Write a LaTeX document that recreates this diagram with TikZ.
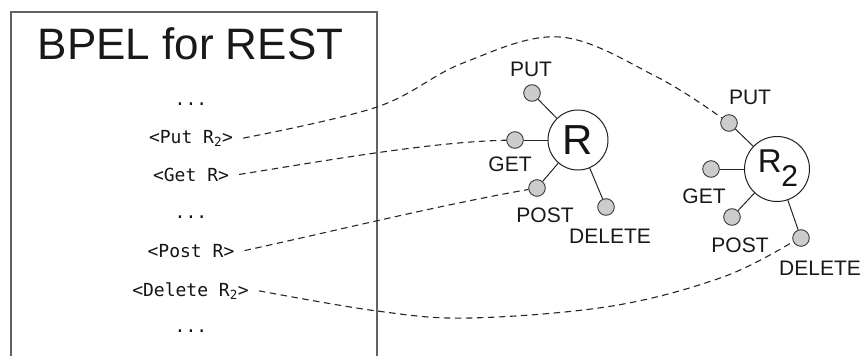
\documentclass[tikz,border=0pt]{standalone}
\usepackage{fontspec}
\setmainfont{Liberation Sans}
\setmonofont{DejaVu Sans Mono}
\begin{document}
\begin{tikzpicture}[x=1pt,y=-1pt,
  panel/.style={draw=black!62, line width=1.3pt},
  title/.style={font=\fontsize{44}{48}\selectfont, text=black!90, anchor=base, inner sep=0pt},
  codeline/.style={font=\ttfamily\fontsize{18}{20}\selectfont, text=black!92, anchor=base, inner xsep=10pt, inner ysep=2pt},
  reslabel/.style={font=\fontsize{21}{24}\selectfont, text=black!90, anchor=base, inner sep=0pt},
  resource/.style={circle, draw=black!88, line width=1pt, inner sep=0pt, fill=white, text=black!92},
  port/.style={circle, draw=black!78, fill=black!20, line width=0.9pt, minimum size=16.6pt, inner sep=0pt},
  link/.style={draw=black!85, line width=1pt},
  call/.style={draw=black!85, line width=1.1pt, dash pattern=on 6.5pt off 4.5pt},
]
\useasboundingbox (0,0) rectangle (863,356);

% process panel, open at the bottom
\draw[panel] (11,356) -- (11,12) -- (377,12) -- (377,356);
\node[title] (ttl) at (190.5,59) {BPEL for REST};

% activities of the process
\node[codeline] (d1)  at (191,105) {...};
\node[codeline] (put) at (191,143) {<Put R\textsubscript{2}>};
\node[codeline] (get) at (191,181) {<Get R>};
\node[codeline] (d2)  at (191,218) {...};
\node[codeline] (pst) at (191,257) {<Post R>};
\node[codeline] (del) at (190.5,296) {<Delete R\textsubscript{2}>};
\node[codeline] (d3)  at (191,332) {...};

% resource R with its interface
\node[resource, minimum size=60pt, font=\fontsize{42}{44}\selectfont] (R) at (578,140) {R};
\node[port] (rPut) at (532,93)  {};
\node[port] (rGet) at (515,140) {};
\node[port] (rPst) at (537,188) {};
\node[port] (rDel) at (606,207) {};
\foreach \p in {rPut,rGet,rPst,rDel} \draw[link] (\p) -- (R);
\node[reslabel] (lrPut) at (531,76)  {PUT};
\node[reslabel] (lrGet) at (510,171) {GET};
\node[reslabel] (lrPst) at (545,222) {POST};
\node[reslabel] (lrDel) at (610,243) {DELETE};

% resource R2 with its interface
\node[resource, minimum size=65pt] (R2) at (777,169) {};
\node[inner sep=0pt, text=black!92, font=\fontsize{33}{35}\selectfont] (R2t) at (778,168.5)
  {R\kern-0.5pt\raisebox{-14pt}{\fontsize{30}{30}\selectfont 2}};
\node[port] (sPut) at (729,123) {};
\node[port] (sGet) at (711,169) {};
\node[port] (sPst) at (732,217) {};
\node[port] (sDel) at (801,238) {};
\foreach \p in {sPut,sGet,sPst,sDel} \draw[link] (\p) -- (R2);
\node[reslabel] (lsPut) at (750,104) {PUT};
\node[reslabel] (lsGet) at (704,203) {GET};
\node[reslabel] (lsPst) at (740,252) {POST};
\node[reslabel] (lsDel) at (820,275) {DELETE};

% bindings of activities to resource operations
\draw[call] plot[smooth, tension=0.6] coordinates
  {(put.east) (377,107) (463,63) (560,37) (657,77) (sPut.145)};
\draw[call] (get.east) .. controls (330,160) and (430,142) .. (rGet);
\draw[call] (pst.east) .. controls (330,232) and (440,205) .. (rPst);
\draw[call] plot[smooth, tension=0.6] coordinates
  {(del.east) (377,311) (470,318) (612,306) (723,277) (sDel.205)};
\end{tikzpicture}
\end{document}
